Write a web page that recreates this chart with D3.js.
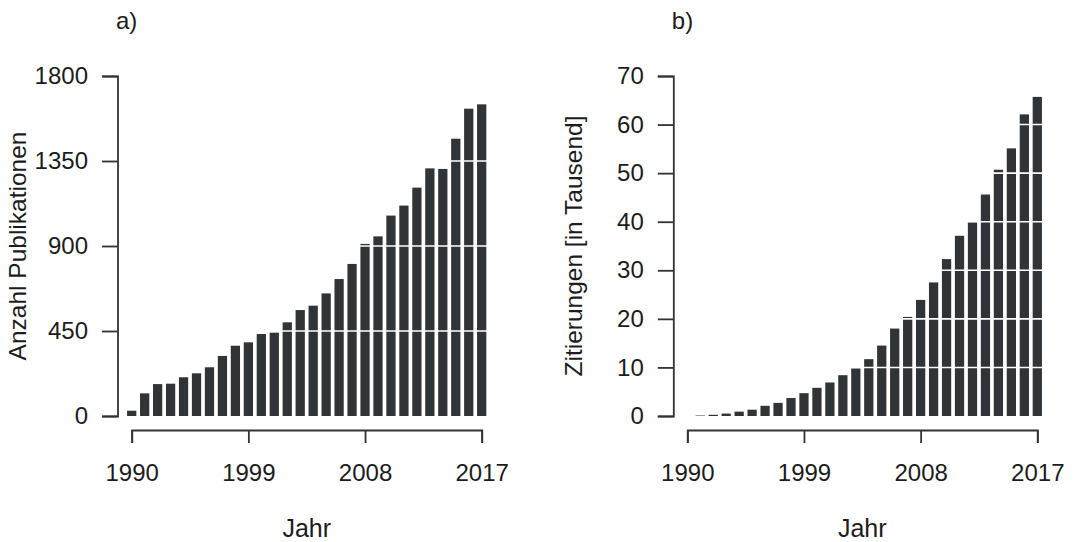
<!DOCTYPE html>
<html>
<head>
<meta charset="utf-8">
<script src="https://cdn.jsdelivr.net/npm/d3@7"></script>
<style>
  html, body { margin: 0; padding: 0; background: #fff; }
  svg text { font-family: "Liberation Sans", Arial, Helvetica, sans-serif; fill: #1c1c1c; }
</style>
</head>
<body>
<div id="chart"></div>
<script>
// Jahre 1990-2017
const years = [1990, 1991, 1992, 1993, 1994, 1995, 1996, 1997, 1998, 1999,
  2000, 2001, 2002, 2003, 2004, 2005, 2006, 2007, 2008, 2009,
  2010, 2011, 2012, 2013, 2014, 2015, 2016, 2017];

// a) Anzahl Publikationen
const publikationen = [28, 120, 169, 171, 205, 226, 258, 318, 372, 390,
  434, 441, 496, 561, 584, 649, 725, 805, 911, 951,
  1061, 1114, 1209, 1311, 1308, 1468, 1627, 1650];

// b) Zitierungen in Tausend
const zitierungen = [0, 0.1, 0.25, 0.5, 0.9, 1.3, 2.1, 2.7, 3.7, 4.7,
  5.8, 6.9, 8.4, 9.8, 11.7, 14.5, 18.0, 20.4, 23.9, 27.5,
  32.3, 37.1, 39.9, 45.6, 50.7, 55.1, 62.1, 65.7];

const pubTicks = [0, 450, 900, 1350, 1800];
const zitTicks = [0, 10, 20, 30, 40, 50, 60, 70];
const yearTicks = [1990, 1999, 2008, 2017];

const width = 1074;
const height = 542;
const barColor = "#313436";
const axisColor = "#333";

const svg = d3.select("#chart")
  .append("svg")
  .attr("width", width)
  .attr("height", height);

function drawPanel(opts) {
  const g = svg.append("g");

  const x = d3.scaleLinear()
    .domain([years[0], years[years.length - 1]])
    .range([opts.left, opts.left + 350]);

  const y = d3.scaleLinear()
    .domain([0, opts.ticks[opts.ticks.length - 1]])
    .range([416, 76]);

  const step = x(years[1]) - x(years[0]);
  const bw = step * 0.714;

  g.selectAll("rect.bar")
    .data(opts.values)
    .enter()
    .append("rect")
    .attr("class", "bar")
    .attr("x", (d, i) => x(years[i]) - bw / 2)
    .attr("width", bw)
    .attr("y", d => y(d))
    .attr("height", d => y(0) - y(d))
    .attr("fill", barColor);

  // white reference lines over the bars
  g.selectAll("line.grid")
    .data(opts.ticks.slice(1, -1))
    .enter()
    .append("line")
    .attr("class", "grid")
    .attr("x1", opts.axisX + 2)
    .attr("x2", x.range()[1] + 8)
    .attr("y1", d => y(d))
    .attr("y2", d => y(d))
    .attr("stroke", "#fff")
    .attr("stroke-width", 1.6);

  // y axis
  const yAxis = g.append("g")
    .attr("transform", "translate(" + opts.axisX + ",0)")
    .call(d3.axisLeft(y).tickValues(opts.ticks).tickFormat(d3.format("d")).tickSize(15.5).tickPadding(14));

  // x axis
  const xAxis = g.append("g")
    .attr("transform", "translate(0,430)")
    .call(d3.axisBottom(x).tickValues(yearTicks).tickFormat(d3.format("d")).tickSize(13).tickPadding(21));

  [yAxis, xAxis].forEach(ax => {
    ax.selectAll("path, line").attr("stroke", axisColor).attr("stroke-width", 1.8);
    ax.selectAll("text").style("font-size", "24px").attr("fill", "#1c1c1c");
  });

  // axis titles
  g.append("text")
    .attr("transform", "translate(" + (opts.axisX - 91.5) + "," + ((y.range()[0] + y.range()[1]) / 2) + ") rotate(-90)")
    .attr("text-anchor", "middle")
    .style("font-size", "24.5px")
    .text(opts.yLabel);

  g.append("text")
    .attr("x", (x.range()[0] + x.range()[1]) / 2)
    .attr("y", 537)
    .attr("text-anchor", "middle")
    .style("font-size", "25px")
    .text("Jahr");

  g.append("text")
    .attr("x", opts.axisX - 1.5)
    .attr("y", 29)
    .style("font-size", "24px")
    .text(opts.title);
}

drawPanel({ left: 131.7, axisX: 117.5, values: publikationen, ticks: pubTicks, yLabel: "Anzahl Publikationen", title: "a)" });
drawPanel({ left: 687.3, axisX: 673.3, values: zitierungen, ticks: zitTicks, yLabel: "Zitierungen [in Tausend]", title: "b)" });
</script>
</body>
</html>
